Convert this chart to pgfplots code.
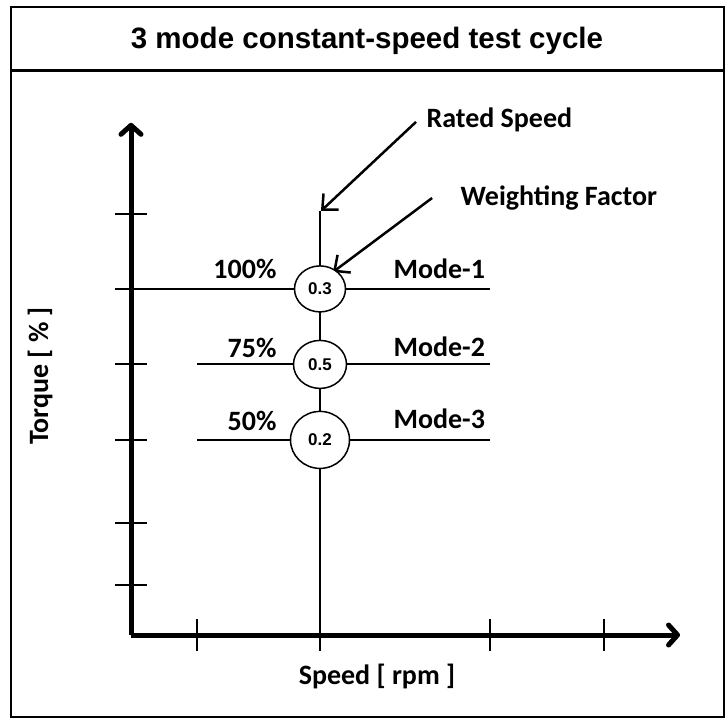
\documentclass[border=0pt]{standalone}
\usepackage{pgfplots}
\pgfplotsset{compat=1.18}
\usepackage{fontspec}
\setmainfont{Carlito}
\newfontfamily\arialfont{Liberation Sans}
\usetikzlibrary{arrows.meta,shapes.geometric}
\begin{document}
\begin{tikzpicture}[x=1pt,y=1pt]
\useasboundingbox (0,0) rectangle (728,-720);
\draw[line width=2pt] (11,-6.5) rectangle (724,-717);
\draw[line width=2.5pt] (11,-70.5) -- (724,-70.5);
\node[anchor=base, font=\arialfont\bfseries\fontsize{29.5}{31}\selectfont] at (367,-48) {3 mode constant-speed test cycle};
\begin{axis}[
  at={(131pt,-635pt)}, anchor=south west,
  x=1.89pt, y=3.02pt,
  xmin=0, xmax=290.5, ymin=-14.6, ymax=155,
  axis lines=left,
  axis line style={line width=5pt, -{Straight Barb[length=9pt,width=20pt,round]}},
  clip=false,
  xtick={35,100,190,250}, ytick={2,22.5,50,75,100,124.8},
  xticklabels={}, yticklabels={},
  tick align=center, major tick length=32pt,
  tick style={black, line width=2pt},
]
% rated speed line
\addplot[line width=2pt] coordinates {(100,-14.6) (100,125.8)};
% mode lines
\addplot[line width=2pt] coordinates {(0,100) (190,100)};
\addplot[line width=2pt] coordinates {(35,75) (190,75)};
\addplot[line width=2pt] coordinates {(35,50) (190,50)};
% weighting factor circles
\addplot[draw=none, nodes near coords, point meta=explicit symbolic,
  every node near coord/.append style={anchor=center, draw=black, ellipse, fill=white, line width=1.5pt, minimum width=51pt, minimum height=46pt, inner sep=0pt, font=\arialfont\bfseries\fontsize{17}{17}\selectfont}]
  coordinates {(100,100) [0.3]};
\addplot[draw=none, nodes near coords, point meta=explicit symbolic,
  every node near coord/.append style={anchor=center, draw=black, ellipse, fill=white, line width=1.5pt, minimum width=53pt, minimum height=48pt, inner sep=0pt, font=\arialfont\bfseries\fontsize{17}{17}\selectfont}]
  coordinates {(100,75) [0.5]};
\addplot[draw=none, nodes near coords, point meta=explicit symbolic,
  every node near coord/.append style={anchor=center, draw=black, ellipse, fill=white, line width=1.5pt, minimum width=59pt, minimum height=57pt, inner sep=0pt, font=\arialfont\bfseries\fontsize{17}{17}\selectfont}]
  coordinates {(100,50) [0.2]};
% annotation arrows
\draw[line width=2.5pt, -{Straight Barb[length=12pt,width=22pt]}] (axis cs:150.8,155.3) -- (axis cs:100.5,125.8);
\draw[line width=2.5pt, -{Straight Barb[length=12pt,width=22pt]}] (axis cs:159.3,130.1) -- (axis cs:106.9,105.6);
\end{axis}
\begin{scope}[every node/.style={font=\bfseries\fontsize{28}{30}\selectfont}]
\node[anchor=base west] at (423,-127) {Rated Speed};
\node[anchor=base west] at (457,-205) {Weighting Factor};
\node[anchor=base east] at (280,-278) {100\%};
\node[anchor=base east] at (280,-357) {75\%};
\node[anchor=base east] at (280,-430) {50\%};
\node[anchor=base west] at (390,-278) {Mode-1};
\node[anchor=base west] at (390,-356) {Mode-2};
\node[anchor=base west] at (390,-428) {Mode-3};
\node[anchor=base] at (377,-684) {Speed [ rpm ]};
\node[rotate=90, anchor=center] at (40,-376) {Torque [ \% ]};
\end{scope}
\end{tikzpicture}
\end{document}
